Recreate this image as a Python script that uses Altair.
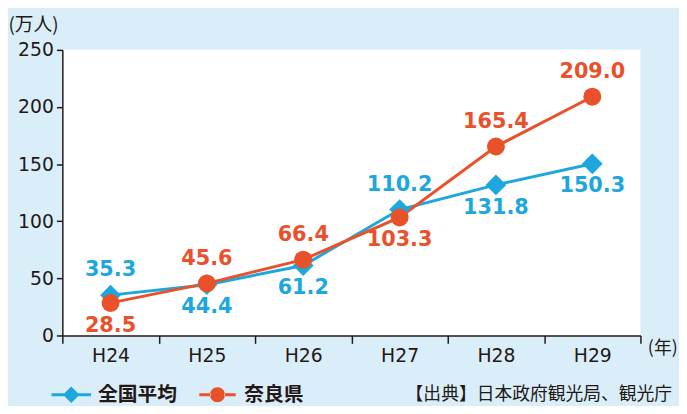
import altair as alt
import pandas as pd

years = ["H24", "H25", "H26", "H27", "H28", "H29"]
national = [35.3, 44.4, 61.2, 110.2, 131.8, 150.3]
nara = [28.5, 45.6, 66.4, 103.3, 165.4, 209.0]
national_pos = ["above", "below", "below", "above", "below", "below"]
nara_pos = ["below", "above", "above", "below", "above", "above"]
series_names = ["全国平均", "奈良県"]
y_ticks = [0, 50, 100, 150, 200, 250]
source_note = ["【出典】日本政府観光局、観光庁"]

BLUE = "#1ea6de"
ORANGE = "#e9512b"
INK = "#231815"
BG = "#daeefa"
NUM_FONT = "DejaVu Sans"
JP_FONT = "Noto Sans CJK JP"

rows = []
for name, vals, poss in [(series_names[0], national, national_pos), (series_names[1], nara, nara_pos)]:
    for yr, v, p in zip(years, vals, poss):
        rows.append({"series": name, "year": yr, "value": v, "pos": p, "label": f"{v:.1f}"})
df = pd.DataFrame(rows)

color_scale = alt.Scale(domain=series_names, range=[BLUE, ORANGE])

x_enc = alt.X("year:N", sort=years,
              scale=alt.Scale(paddingInner=0, paddingOuter=0),
              axis=alt.Axis(title="(年)", titleX=592, titleY=13, titleAlign="left",
                            titleBaseline="middle", titleFont=JP_FONT, titleFontSize=18,
                            titleFontWeight="normal", titleColor=INK,
                            labelAngle=0, tickBand="extent", tickSize=8, labelPadding=3,
                            labelFont=NUM_FONT, labelFontSize=19, labelColor=INK,
                            grid=False, domainColor=INK, tickColor=INK,
                            domainWidth=1.5, tickWidth=1.5))
y_enc = alt.Y("value:Q", scale=alt.Scale(domain=[0, 250], nice=False),
              axis=alt.Axis(values=y_ticks, title="(万人)", titleAngle=0,
                            titleX=-55, titleY=-26, titleAlign="left", titleBaseline="middle",
                            titleFont=JP_FONT, titleFontSize=19, titleFontWeight="normal",
                            titleColor=INK, grid=False, tickSize=6, labelPadding=3,
                            labelFont=NUM_FONT, labelFontSize=19, labelColor=INK,
                            domainColor=INK, tickColor=INK, domainWidth=1.5, tickWidth=1.5))

base = alt.Chart(df)

line = base.mark_line(strokeWidth=3).encode(
    x=x_enc, y=y_enc,
    stroke=alt.Stroke("series:N", scale=color_scale, legend=None),
)

point_layers = []
for name, shp, sz in zip(series_names, ["diamond", "circle"], [440, 330]):
    point_layers.append(
        base.transform_filter(alt.datum.series == name)
        .mark_point(filled=True, opacity=1, shape=shp, size=sz)
        .encode(x=x_enc, y=y_enc,
                color=alt.Color("series:N", scale=color_scale, legend=None))
    )

diamond_path = ("M-2.5,-0.19 L-0.9,-0.19 L-0.9,0.19 L-2.5,0.19 Z "
                "M0.9,-0.19 L2.5,-0.19 L2.5,0.19 L0.9,0.19 Z "
                "M0,-1.05 L1.05,0 L0,1.05 L-1.05,0 Z")
circle_path = ("M-2.3,-0.19 L-0.85,-0.19 L-0.85,0.19 L-2.3,0.19 Z "
               "M0.85,-0.19 L2.3,-0.19 L2.3,0.19 L0.85,0.19 Z "
               "M-0.95,0 A0.95,0.95 0 1,0 0.95,0 A0.95,0.95 0 1,0 -0.95,0 Z")


def make_legend(x, col, path):
    return alt.Legend(
        title=None, orient="none", direction="horizontal", legendX=x, legendY=339,
        labelFont=JP_FONT, labelFontSize=20, labelFontWeight="bold", labelColor=INK,
        labelOffset=17, padding=0, symbolStrokeWidth=0, symbolSize=256,
        symbolOpacity=1, symbolFillColor=col, symbolType=path,
    )


legend_a = base.transform_filter("false").mark_point(
    filled=True, opacity=1, size=256, color=BLUE
).encode(
    x=x_enc, y=y_enc,
    shape=alt.Shape("series:N", scale=alt.Scale(domain=[series_names[0]], range=[diamond_path]),
                    legend=make_legend(-1, BLUE, diamond_path)),
)
legend_b = base.transform_filter("false").mark_point(
    filled=True, size=256, color=ORANGE
).encode(
    x=x_enc, y=y_enc,
    opacity=alt.Opacity("series:N", scale=alt.Scale(domain=[series_names[1]], range=[1]),
                        legend=make_legend(147, ORANGE, circle_path)),
)

texts = []
for name, col in zip(series_names, [BLUE, ORANGE]):
    for p, dy in [("above", -25), ("below", 23)]:
        texts.append(
            base.transform_filter((alt.datum.series == name) & (alt.datum.pos == p))
            .mark_text(dy=dy, color=col, fontSize=21, font=NUM_FONT, fontWeight="bold",
                       baseline="middle")
            .encode(x=x_enc, y=y_enc, text="label:N")
        )

note = alt.Chart(pd.DataFrame({"note": source_note})).mark_text(
    align="right", baseline="middle", font=JP_FONT, fontSize=18, color=INK
).encode(x=alt.value(617), y=alt.value(349), text="note:N")

chart = alt.layer(line, *point_layers, legend_a, legend_b, *texts, note).properties(
    width=585, height=289,
    padding={"left": 55, "top": 40, "right": 39, "bottom": 69},
    autosize=alt.AutoSizeParams(type="none"),
    background=BG,
).configure_view(fill="white", stroke=None)

chart.save("out.html", embed_options={"renderer": "svg", "actions": False})
